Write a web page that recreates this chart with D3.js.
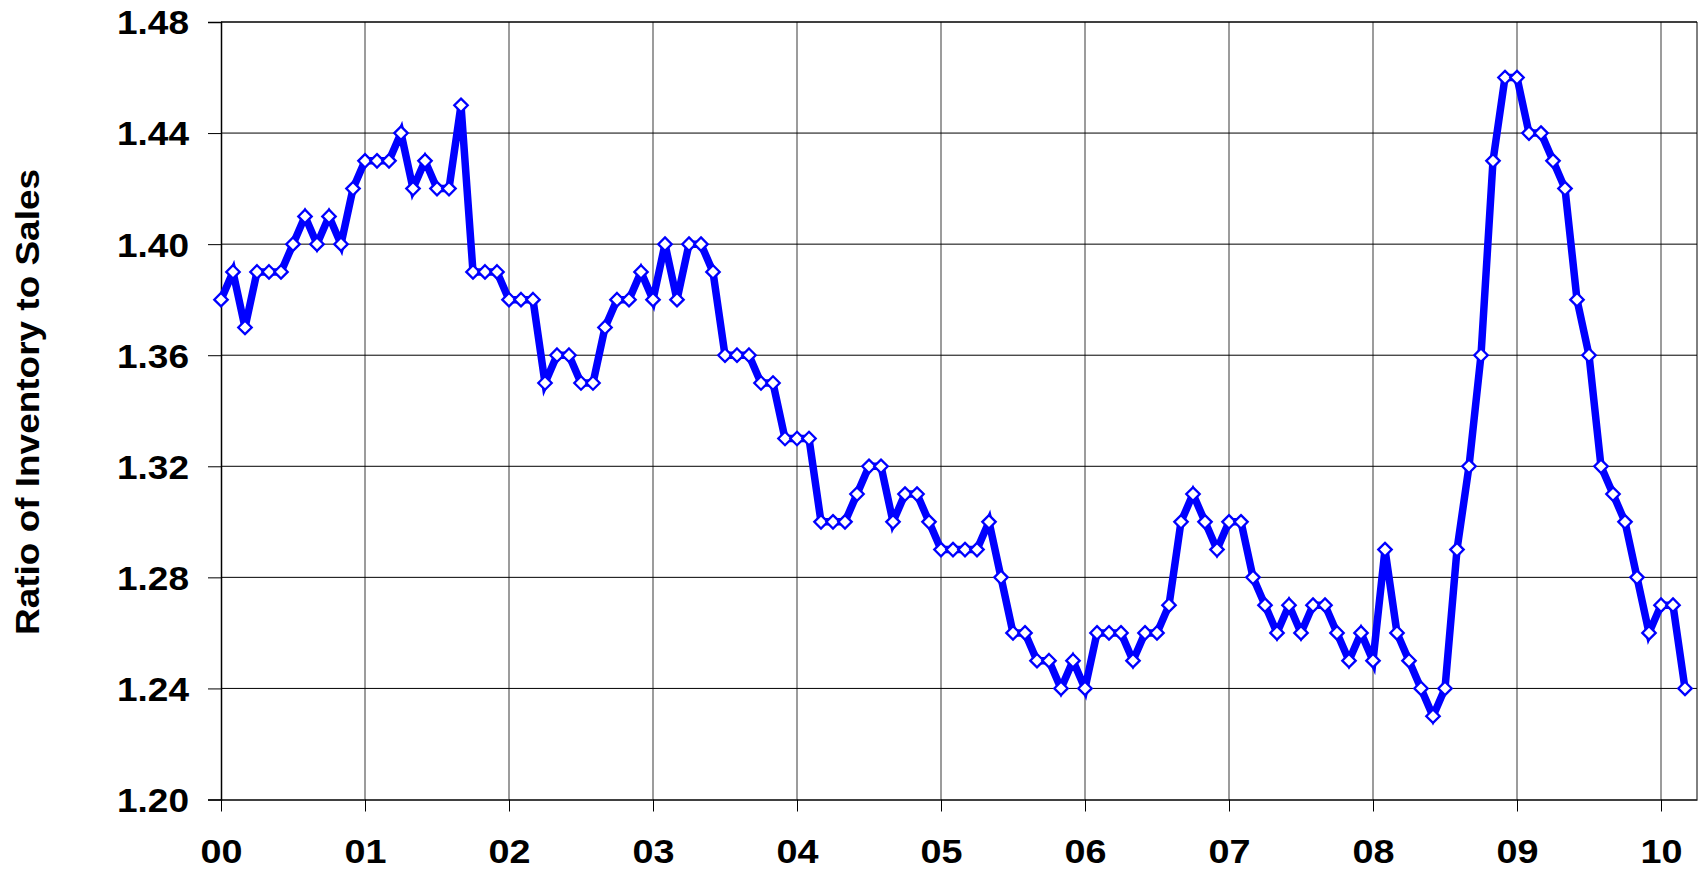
<!DOCTYPE html>
<html>
<head>
<meta charset="utf-8">
<script src="https://cdn.jsdelivr.net/npm/d3@7"></script>
<style>
    html, body { margin: 0; padding: 0; background: #fff; }
    svg { display: block; }
</style>
</head>
<body>
<div id="graphContainer"></div>
<script>
"use strict";

// Year labels on the x-axis (one every 12 months, starting Jan 2000)
const yearLabels = ["00", "01", "02", "03", "04", "05", "06", "07", "08", "09", "10"];

// Gridline values for the y-axis
const yTickValues = [1.20, 1.24, 1.28, 1.32, 1.36, 1.40, 1.44, 1.48];

// Monthly ratio of inventory to sales, Jan 2000 - Mar 2010
const ratio2000 = [1.38, 1.39, 1.37, 1.39, 1.39, 1.39, 1.40, 1.41, 1.40, 1.41, 1.40, 1.42];
const ratio2001 = [1.43, 1.43, 1.43, 1.44, 1.42, 1.43, 1.42, 1.42, 1.45, 1.39, 1.39, 1.39];
const ratio2002 = [1.38, 1.38, 1.38, 1.35, 1.36, 1.36, 1.35, 1.35, 1.37, 1.38, 1.38, 1.39];
const ratio2003 = [1.38, 1.40, 1.38, 1.40, 1.40, 1.39, 1.36, 1.36, 1.36, 1.35, 1.35, 1.33];
const ratio2004 = [1.33, 1.33, 1.30, 1.30, 1.30, 1.31, 1.32, 1.32, 1.30, 1.31, 1.31, 1.30];
const ratio2005 = [1.29, 1.29, 1.29, 1.29, 1.30, 1.28, 1.26, 1.26, 1.25, 1.25, 1.24, 1.25];
const ratio2006 = [1.24, 1.26, 1.26, 1.26, 1.25, 1.26, 1.26, 1.27, 1.30, 1.31, 1.30, 1.29];
const ratio2007 = [1.30, 1.30, 1.28, 1.27, 1.26, 1.27, 1.26, 1.27, 1.27, 1.26, 1.25, 1.26];
const ratio2008 = [1.25, 1.29, 1.26, 1.25, 1.24, 1.23, 1.24, 1.29, 1.32, 1.36, 1.43, 1.46];
const ratio2009 = [1.46, 1.44, 1.44, 1.43, 1.42, 1.38, 1.36, 1.32, 1.31, 1.30, 1.28, 1.26];
const ratio2010 = [1.27, 1.27, 1.24];

const ratios = [].concat(ratio2000, ratio2001, ratio2002, ratio2003, ratio2004, ratio2005,
    ratio2006, ratio2007, ratio2008, ratio2009, ratio2010);

// Define the dimensions of the graph
const graphInfo = {
    yAxisLabel: "Ratio of Inventory to Sales",
    width: 1704,
    height: 874,
    marginTop: 22,
    marginBottom: 74.5,
    marginLeft: 221,
    marginRight: 7,
    fontFamily: "Arial, 'Liberation Sans', sans-serif"
};

const svg = d3.select("#graphContainer").append("svg")
    .attr("width", graphInfo.width)
    .attr("height", graphInfo.height)
    .attr("viewBox", [0, 0, graphInfo.width, graphInfo.height]);

const data = ratios.map((v, i) => ({ x: i, y: v }));

// x is measured in months since Jan 2000, the axis runs one month past the last point
const xScale = d3.scaleLinear()
    .domain([0, ratios.length])
    .range([graphInfo.marginLeft, graphInfo.width - graphInfo.marginRight]);

const yScale = d3.scaleLinear()
    .domain([1.20, 1.48])
    .range([graphInfo.height - graphInfo.marginBottom, graphInfo.marginTop]);

const yearTicks = yearLabels.map((d, i) => i * 12);

// Vertical gridlines at each year
svg.append("g")
    .attr("stroke", "#5a5a5a")
    .attr("stroke-width", 1.2)
    .selectAll("line")
    .data(yearTicks.slice(1))
    .join("line")
    .attr("x1", d => xScale(d))
    .attr("x2", d => xScale(d))
    .attr("y1", yScale(1.48))
    .attr("y2", yScale(1.20));

// Horizontal gridlines
svg.append("g")
    .attr("stroke", "#000")
    .attr("stroke-width", 1)
    .selectAll("line")
    .data(yTickValues.slice(1))
    .join("line")
    .attr("x1", xScale.range()[0])
    .attr("x2", xScale.range()[1])
    .attr("y1", d => yScale(d))
    .attr("y2", d => yScale(d));

// Right border of the plot area
svg.append("line")
    .attr("stroke", "#000")
    .attr("x1", xScale.range()[1])
    .attr("x2", xScale.range()[1])
    .attr("y1", yScale(1.48))
    .attr("y2", yScale(1.20));

// Put the y-axis on the graph
svg.append("g")
    .attr("transform", `translate(${graphInfo.marginLeft},0)`)
    .call(d3.axisLeft(yScale)
        .tickValues(yTickValues)
        .tickFormat(d3.format(".2f"))
        .tickSize(13)
        .tickPadding(19))
    .call(g => g.select(".domain").attr("stroke", "#000").attr("stroke-width", 1.5))
    .call(g => g.selectAll(".tick line").attr("stroke", "#000"))
    .call(g => g.selectAll(".tick text")
        .attr("fill", "#000")
        .attr("font-family", graphInfo.fontFamily)
        .attr("font-weight", "bold")
        .attr("font-size", 33)
        .attr("textLength", 72)
        .attr("lengthAdjust", "spacingAndGlyphs")
        .attr("dy", "0.36em"));

// Put the x-axis on the graph
svg.append("g")
    .attr("transform", `translate(0,${graphInfo.height - graphInfo.marginBottom})`)
    .call(d3.axisBottom(xScale)
        .tickValues(yearTicks)
        .tickFormat((d, i) => yearLabels[i])
        .tickSize(12)
        .tickSizeOuter(0)
        .tickPadding(0))
    .call(g => g.select(".domain").attr("stroke", "#000").attr("stroke-width", 1.5))
    .call(g => g.selectAll(".tick line").attr("stroke", "#000"))
    .call(g => g.selectAll(".tick text")
        .attr("fill", "#000")
        .attr("font-family", graphInfo.fontFamily)
        .attr("font-weight", "bold")
        .attr("font-size", 33)
        .attr("textLength", 42)
        .attr("lengthAdjust", "spacingAndGlyphs")
        .attr("y", 63)
        .attr("dy", null));

// Top border
svg.append("line")
    .attr("stroke", "#000")
    .attr("x1", xScale.range()[0])
    .attr("x2", xScale.range()[1])
    .attr("y1", yScale(1.48))
    .attr("y2", yScale(1.48));

// y-axis title
svg.append("text")
    .attr("transform", `translate(39,402) rotate(-90)`)
    .attr("text-anchor", "middle")
    .attr("font-family", graphInfo.fontFamily)
    .attr("font-weight", "bold")
    .attr("font-size", 33)
    .attr("textLength", 466)
    .attr("lengthAdjust", "spacingAndGlyphs")
    .attr("fill", "#000")
    .text(graphInfo.yAxisLabel);

// Define the line between points
const line = d3.line()
    .x(d => xScale(d.x))
    .y(d => yScale(d.y));

svg.append("path")
    .datum(data)
    .attr("fill", "none")
    .attr("stroke", "#0000ff")
    .attr("stroke-width", 7.5)
    .attr("stroke-linejoin", "miter")
    .attr("d", line);

// Add a white diamond at each data point
const diamond = d3.symbol().type(d3.symbolDiamond2).size(115);

svg.append("g")
    .attr("fill", "white")
    .attr("stroke", "#0000ff")
    .attr("stroke-width", 2.3)
    .selectAll("path")
    .data(data)
    .join("path")
    .attr("transform", d => `translate(${xScale(d.x)},${yScale(d.y)})`)
    .attr("d", diamond);
</script>
</body>
</html>
